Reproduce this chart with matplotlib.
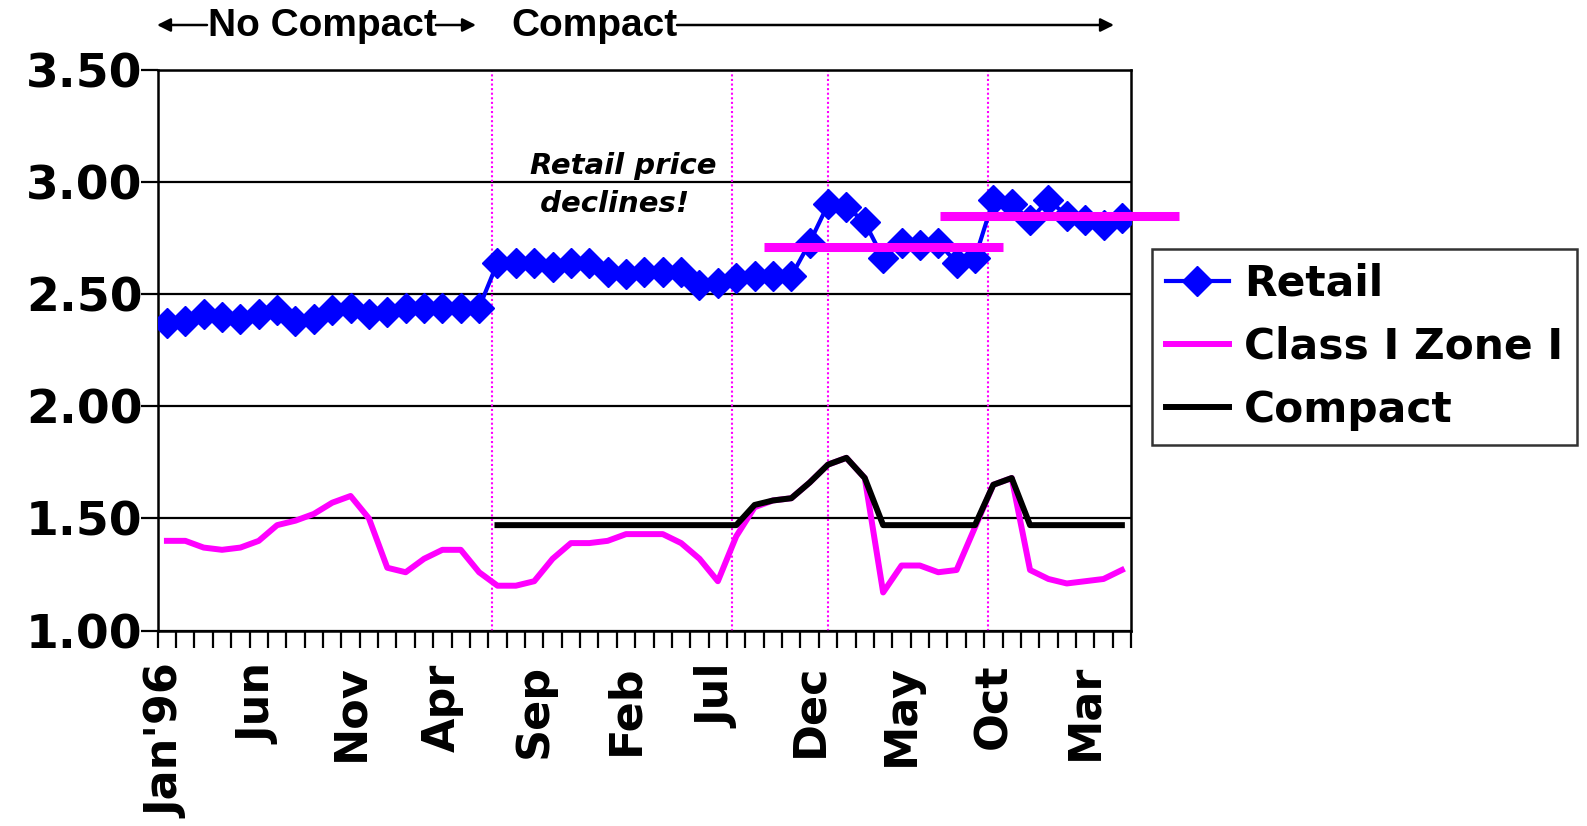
import numpy as np
import matplotlib
matplotlib.use("Agg")
import matplotlib.pyplot as plt

# monthly series, Jan'96 .. May'00 (53 months)
retail = [2.37, 2.38, 2.41, 2.40, 2.39, 2.41, 2.43, 2.38, 2.39, 2.43, 2.44, 2.41, 2.42, 2.44, 2.44, 2.44, 2.44, 2.44,
          2.64, 2.64, 2.64, 2.62, 2.64, 2.64, 2.60, 2.59, 2.60, 2.60, 2.60, 2.54, 2.55, 2.57, 2.58, 2.58, 2.58,
          2.73, 2.90, 2.89, 2.82, 2.66, 2.73, 2.72, 2.73, 2.64, 2.66, 2.92, 2.90, 2.83, 2.92, 2.85, 2.83, 2.81, 2.84]
class1 = [1.40, 1.40, 1.37, 1.36, 1.37, 1.40, 1.47, 1.49, 1.52, 1.57, 1.60, 1.50, 1.28, 1.26, 1.32, 1.36, 1.36, 1.26,
          1.20, 1.20, 1.22, 1.32, 1.39, 1.39, 1.40, 1.43, 1.43, 1.43, 1.39, 1.32, 1.22, 1.42,
          1.55, 1.58, 1.59, 1.66, 1.74, 1.77, 1.68,
          1.17, 1.29, 1.29, 1.26, 1.27, 1.46,
          1.65, 1.68, 1.27, 1.23, 1.21, 1.22, 1.23, 1.27]
NA = np.nan
compact = [NA] * 18 + [1.47] * 14 + [1.56, 1.58, 1.59, 1.66, 1.74, 1.77, 1.68] + [1.47] * 6 \
          + [1.65, 1.68] + [1.47] * 6
tick_idx = [0, 5, 10, 15, 20, 25, 30, 35, 40, 45, 50]
tick_lab = ["Jan'96", "Jun", "Nov", "Apr", "Sep", "Feb", "Jul", "Dec", "May", "Oct", "Mar"]
yticks = [1.0, 1.5, 2.0, 2.5, 3.0, 3.5]

# period averages of retail (value, start, end in month index) and event markers
avg_val = [2.71, 2.85]
avg_span = [(32.5, 45.5), (42.1, 55.1)]
events = [17.7, 30.75, 36.0, 44.7]

MAG = "#FF00FF"; BLUE = "#0000FF"

fig = plt.figure(figsize=(15.87, 8.26), dpi=100)
ax = fig.add_axes([0.0994, 0.2366, 0.6133, 0.6789])
x = np.arange(len(retail))

for e in events:
    ax.axvline(e, color=MAG, ls=(0, (1, 1.2)), lw=1.5, zorder=2)
ax.plot(x, class1, color=MAG, lw=4.3, zorder=3, label="Class I Zone I")
ax.plot(x, compact, color="black", lw=4.3, zorder=4, label="Compact")
ax.plot(x, retail, color=BLUE, lw=3, marker="D", ms=15.5, mec=BLUE, mfc=BLUE, zorder=5, label="Retail")
for v, (a, b) in zip(avg_val, avg_span):
    ax.hlines(v, a, b, color=MAG, lw=6.5, zorder=6, clip_on=False)

ax.set_xlim(-0.5, len(retail) - 0.5)
ax.set_ylim(1.0, 3.5)
ax.set_yticks(yticks)
ax.set_yticklabels([f"{v:.2f}" for v in yticks])
ax.yaxis.grid(True, color="black", lw=1.6)
ax.set_axisbelow(True)
ax.set_xticks(tick_idx)
ax.set_xticklabels(tick_lab, rotation=90, va="top", ha="center")
ax.set_xticks(np.arange(-0.5, len(retail)), minor=True)
ax.tick_params(axis="x", which="major", length=0, pad=24, labelsize=32)
ax.tick_params(axis="x", which="minor", length=12, width=1.6, direction="out")
ax.tick_params(axis="y", length=12, width=1.6, pad=-1, labelsize=34)
for lab in ax.get_xticklabels() + ax.get_yticklabels():
    lab.set_fontweight("bold")
for s in ax.spines.values():
    s.set_linewidth(1.8)

# legend
h, l = ax.get_legend_handles_labels()
order = [2, 0, 1]
leg = fig.legend([h[i] for i in order], [l[i] for i in order], loc="upper left",
                 bbox_to_anchor=(0.7259, 0.6985), prop={"weight": "bold", "size": 30.5},
                 frameon=True, fancybox=False, edgecolor="black", handlelength=1.5,
                 labelspacing=0.5, borderpad=0.32, handletextpad=0.35, borderaxespad=0)
leg.get_frame().set_linewidth(1.8)

# header arrows
H = 826
hf = dict(fontsize=28, fontweight="bold", family="Liberation Sans")
fig.text(322 / 1587, 1 - 26 / H, "No Compact", ha="center", va="center", **hf)
fig.text(511 / 1587, 1 - 26 / H, "Compact", ha="left", va="center", **hf)
ap = dict(arrowstyle="-|>", color="black", lw=1.8, mutation_scale=20, shrinkA=0, shrinkB=0)
ax.annotate("", xy=(157, H - 25), xytext=(207, H - 25), xycoords="figure pixels", arrowprops=ap)
ax.annotate("", xy=(476, H - 25), xytext=(436, H - 25), xycoords="figure pixels", arrowprops=ap)
ax.annotate("", xy=(1114, H - 25), xytext=(677, H - 25), xycoords="figure pixels", arrowprops=ap)

fig.text(530 / 1587, 1 - 185 / H, "Retail price\n declines!", ha="left", va="center",
         fontsize=21, fontweight="bold", fontstyle="italic", linespacing=1.45)

fig.savefig("out.png", dpi=100)
